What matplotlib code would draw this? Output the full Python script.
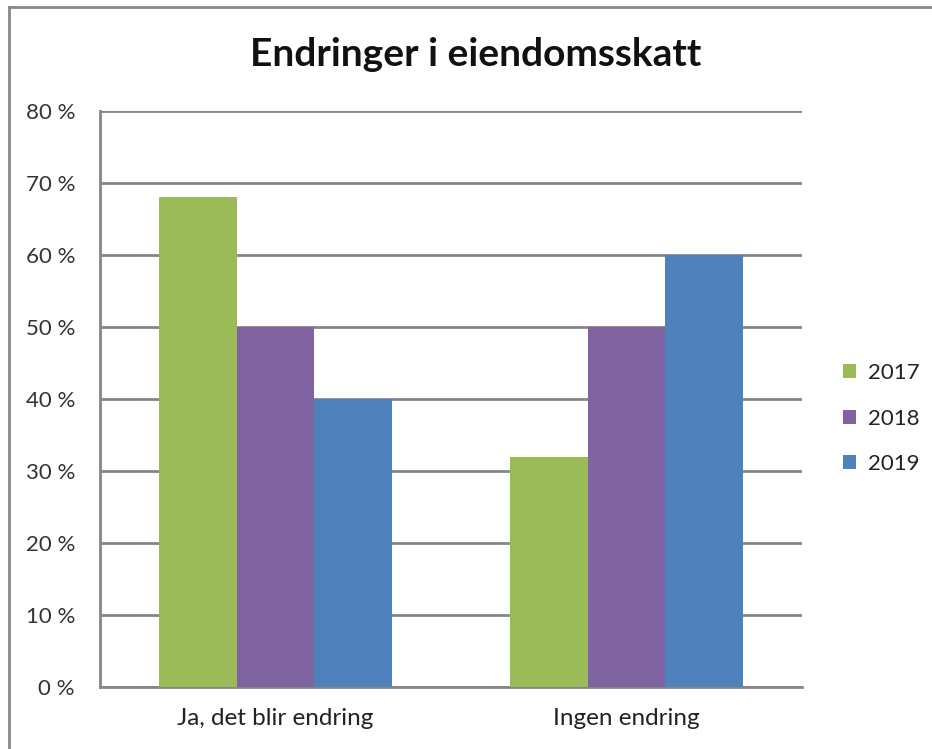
import numpy as np
import matplotlib
matplotlib.use("Agg")
import matplotlib.pyplot as plt
from matplotlib.lines import Line2D

plt.rcParams["font.family"] = ["Lato", "DejaVu Sans"]

# data
categories = ["Ja, det blir endring", "Ingen endring"]
years = ["2017", "2018", "2019"]
v2017 = [68, 32]
v2018 = [50, 50]
v2019 = [40, 60]
colors = ["#9BBB59", "#8064A2", "#4F81BD"]
yticks = [0, 10, 20, 30, 40, 50, 60, 70, 80]

fig = plt.figure(figsize=(9.32, 7.49), dpi=100)
ax = fig.add_axes([100 / 932, 62 / 749, 702 / 932, 576 / 749])

x = np.arange(len(categories))
w = 0.222
for i, (vals, col, lab) in enumerate(zip([v2017, v2018, v2019], colors, years)):
    ax.bar(x + (i - 1) * w, vals, width=w, color=col, label=lab, zorder=3)

ax.set_xlim(-0.5, 1.5)
ax.set_ylim(0, 80)
ax.set_yticks(yticks)
ax.set_yticklabels([f"{t} %" for t in yticks], fontsize=16, color="#333333")
ax.set_xticks(x)
ax.set_xticklabels(categories, fontsize=17.5, color="#222222")
ax.tick_params(axis="y", length=0, pad=18)
ax.tick_params(axis="x", length=0, pad=15)
ax.yaxis.grid(True, color="#868686", lw=2, zorder=0)
for s in ["top", "right"]:
    ax.spines[s].set_visible(False)
for s in ["left", "bottom"]:
    ax.spines[s].set_color("#868686")
    ax.spines[s].set_linewidth(2)

fig.text(476 / 932, 1 - 55 / 749, "Endringer i eiendomsskatt", ha="center", va="center",
         fontsize=28, fontweight="bold", color="#111111")

leg = ax.legend(loc="center left", bbox_to_anchor=(1.03, 0.466), frameon=False,
                fontsize=16, handlelength=0.6, handleheight=0.6, handletextpad=0.5,
                labelspacing=1.15)
for t in leg.get_texts():
    t.set_color("#222222")

# outer border (left and top visible)
fig.add_artist(Line2D([9 / 932, 9 / 932], [0, 1 - 7 / 749], transform=fig.transFigure,
                      color="#888888", lw=2))
fig.add_artist(Line2D([9 / 932, 1], [1 - 7 / 749, 1 - 7 / 749], transform=fig.transFigure,
                      color="#888888", lw=2))

fig.savefig("out.png", dpi=100)
